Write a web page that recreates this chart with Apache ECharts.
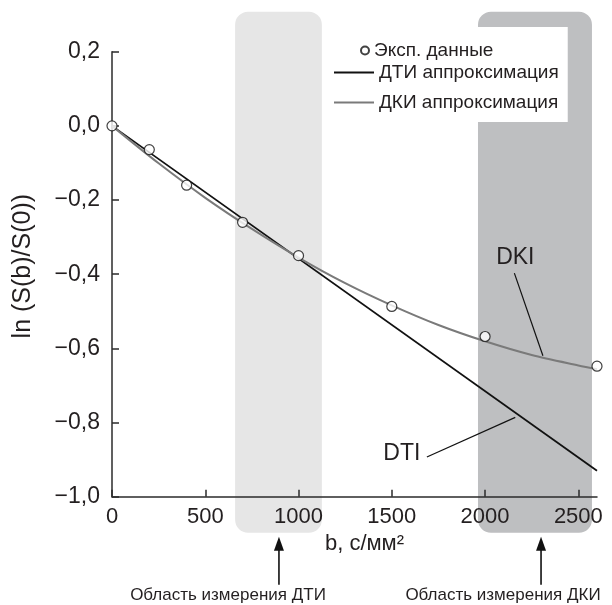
<!DOCTYPE html>
<html><head><meta charset="utf-8">
<script src="https://cdn.jsdelivr.net/npm/echarts@6/dist/echarts.min.js"></script>
<style>html,body{margin:0;padding:0;background:#fff}#c{width:612px;height:605px}</style>
</head><body><div id="c"></div>
<script>
// ---- data ----
const expB = [0, 200, 400, 700, 1000, 1500, 2000, 2600];
const expLnS = [0.0, -0.064, -0.16, -0.26, -0.35, -0.487, -0.568, -0.648];
const dtiB = [0, 2600];
const dtiLnS = [0.0, -0.93];
const dkiB = [0, 250, 500, 750, 1000, 1250, 1500, 1750, 2000, 2250, 2500, 2600];
const dkiLnS = [0, -0.101, -0.194, -0.278, -0.355, -0.424, -0.484, -0.537, -0.581, -0.618, -0.646, -0.656];
const regionStart = [660, 1962];
const regionEnd = [1125, 2573];
const regionArrowB = [895, 2300];
const regionLabels = ['Область измерения ДТИ', 'Область измерения ДКИ'];
const xTicks = [0, 500, 1000, 1500, 2000, 2500];
const yTicks = [-1.0, -0.8, -0.6, -0.4, -0.2, 0.0, 0.2];
const seriesNames = ['Эксп. данные', 'ДТИ аппроксимация', 'ДКИ аппроксимация'];
const xName = 'b, с/мм²';
const yName = 'ln (S(b)/S(0))';

const FONT = '"Liberation Sans", Arial, Helvetica, sans-serif';
const TXT = '#231f20';
const regionColors = ['#e6e6e6', '#bebfc1'];

const chart = echarts.init(document.getElementById('c'), null, {renderer: 'canvas'});
const fmtY = v => {
  const r = Math.round(v * 10) / 10;
  return (r < 0 ? '−' : '') + Math.abs(r).toFixed(1).replace('.', ',');
};
const axisLineStyle = {color: '#2b2b2b', width: 1.5};

chart.setOption({
  animation: false,
  backgroundColor: '#fff',
  grid: {left: 112, right: 15, top: 51.7, bottom: 108.3},
  xAxis: {
    type: 'value', min: 0, max: 2600, interval: 500,
    name: xName, nameLocation: 'middle', nameGap: 35,
    nameTextStyle: {fontFamily: FONT, fontSize: 22, color: TXT, padding: [0, 0, 0, 20]},
    axisLine: {show: true, onZero: false, lineStyle: axisLineStyle},
    axisTick: {show: true, inside: true, length: 7, lineStyle: axisLineStyle, customValues: xTicks},
    axisLabel: {fontFamily: FONT, fontSize: 22, color: TXT, margin: 9, customValues: xTicks,
      formatter: v => String(v)},
    splitLine: {show: false}
  },
  yAxis: {
    type: 'value', min: -1.0, max: 0.2, interval: 0.2,
    name: yName, nameLocation: 'middle', nameGap: 76, nameRotate: 90,
    nameTextStyle: {fontFamily: FONT, fontSize: 25, color: TXT, padding: [0, 0, 0, 16]},
    axisLine: {show: true, onZero: false, lineStyle: axisLineStyle},
    axisTick: {show: true, inside: true, length: 7, lineStyle: axisLineStyle, customValues: yTicks},
    axisLabel: {fontFamily: FONT, fontSize: 23, color: TXT, margin: 12, formatter: fmtY, customValues: yTicks},
    splitLine: {show: false}
  },
  legend: [
    {
      data: [{name: seriesNames[1]}, {name: seriesNames[2]}],
      orient: 'vertical', left: 323, top: 27,
      padding: [36, 9, 10, 10], itemGap: 11, itemWidth: 40, itemHeight: 14,
      backgroundColor: '#fff', z: 4,
      itemStyle: {opacity: 0},
      textStyle: {fontFamily: FONT, fontSize: 19, color: TXT}
    },
    {
      data: [{name: seriesNames[0], icon: 'emptyCircle'}],
      orient: 'vertical', left: 360, top: 41, padding: 0,
      itemWidth: 8, itemHeight: 8, itemGap: 5, z: 6,
      itemStyle: {color: '#111', borderColor: '#111', borderWidth: 1},
      textStyle: {fontFamily: FONT, fontSize: 19, color: TXT}
    }
  ],
  series: [
    {
      type: 'custom', name: 'regions', clip: false, silent: true, z: 0,
      data: regionStart.map((s, i) => [s, regionEnd[i]]),
      encode: {x: [0, 1]},
      renderItem: (params, api) => {
        const x0 = api.coord([api.value(0), 0])[0];
        const x1 = api.coord([api.value(1), 0])[0];
        const cs = params.coordSys;
        return {
          type: 'rect',
          shape: {x: x0, y: cs.y - 40, width: x1 - x0, height: cs.height + 76, r: 13},
          style: {fill: regionColors[params.dataIndex]}
        };
      }
    },
    {
      type: 'line', name: seriesNames[1], z: 3,
      data: dtiB.map((b, i) => [b, dtiLnS[i]]),
      symbol: 'none', lineStyle: {color: '#111', width: 1.8}, itemStyle: {color: '#111'}
    },
    {
      type: 'line', name: seriesNames[2], z: 3, smooth: 0.3,
      data: dkiB.map((b, i) => [b, dkiLnS[i]]),
      symbol: 'none', lineStyle: {color: '#7a7a7a', width: 2}, itemStyle: {color: '#7a7a7a'}
    },
    {
      type: 'scatter', name: seriesNames[0], z: 5, clip: false,
      data: expB.map((b, i) => [b, expLnS[i]]),
      symbol: 'circle', symbolSize: 10,
      itemStyle: {color: '#fff', borderColor: '#111', borderWidth: 1.2}
    }
  ]
});

// ---- annotations (leader lines, labels, arrows) ----
const dkiNote = {text: 'DKI', at: [2162, -0.355], from: [2157, -0.397], to: [2310, -0.62]};
const dtiNote = {text: 'DTI', at: [1554, -0.885], from: [1688, -0.893], to: [2162, -0.786]};
const px = p => chart.convertToPixel({gridIndex: 0}, p);
const g = [];
[dkiNote, dtiNote].forEach(n => {
  const a = px(n.at), f = px(n.from), t = px(n.to);
  g.push({type: 'text', x: a[0], y: a[1], z: 10,
    style: {text: n.text, fontFamily: FONT, fontSize: 23, fill: TXT, align: 'center', verticalAlign: 'middle'}});
  g.push({type: 'line', z: 10, shape: {x1: f[0], y1: f[1], x2: t[0], y2: t[1]}, style: {stroke: '#111', lineWidth: 1.2}});
});
const axisY = px([0, -1.0])[1];
const textCenters = [228, 503];
regionArrowB.forEach((b, i) => {
  const x = px([b, 0])[0];
  const tipY = axisY + 40, baseY = axisY + 88;
  g.push({type: 'line', z: 10, shape: {x1: x, y1: tipY + 10, x2: x, y2: baseY}, style: {stroke: '#111', lineWidth: 1.6}});
  g.push({type: 'polygon', z: 10, shape: {points: [[x, tipY], [x - 5, tipY + 14], [x + 5, tipY + 14]]}, style: {fill: '#111'}});
  g.push({type: 'text', x: textCenters[i], y: axisY + 99, z: 10,
    style: {text: regionLabels[i], fontFamily: FONT, fontSize: 17, fill: TXT, align: 'center', verticalAlign: 'middle'}});
});
chart.setOption({graphic: g});
</script></body></html>
